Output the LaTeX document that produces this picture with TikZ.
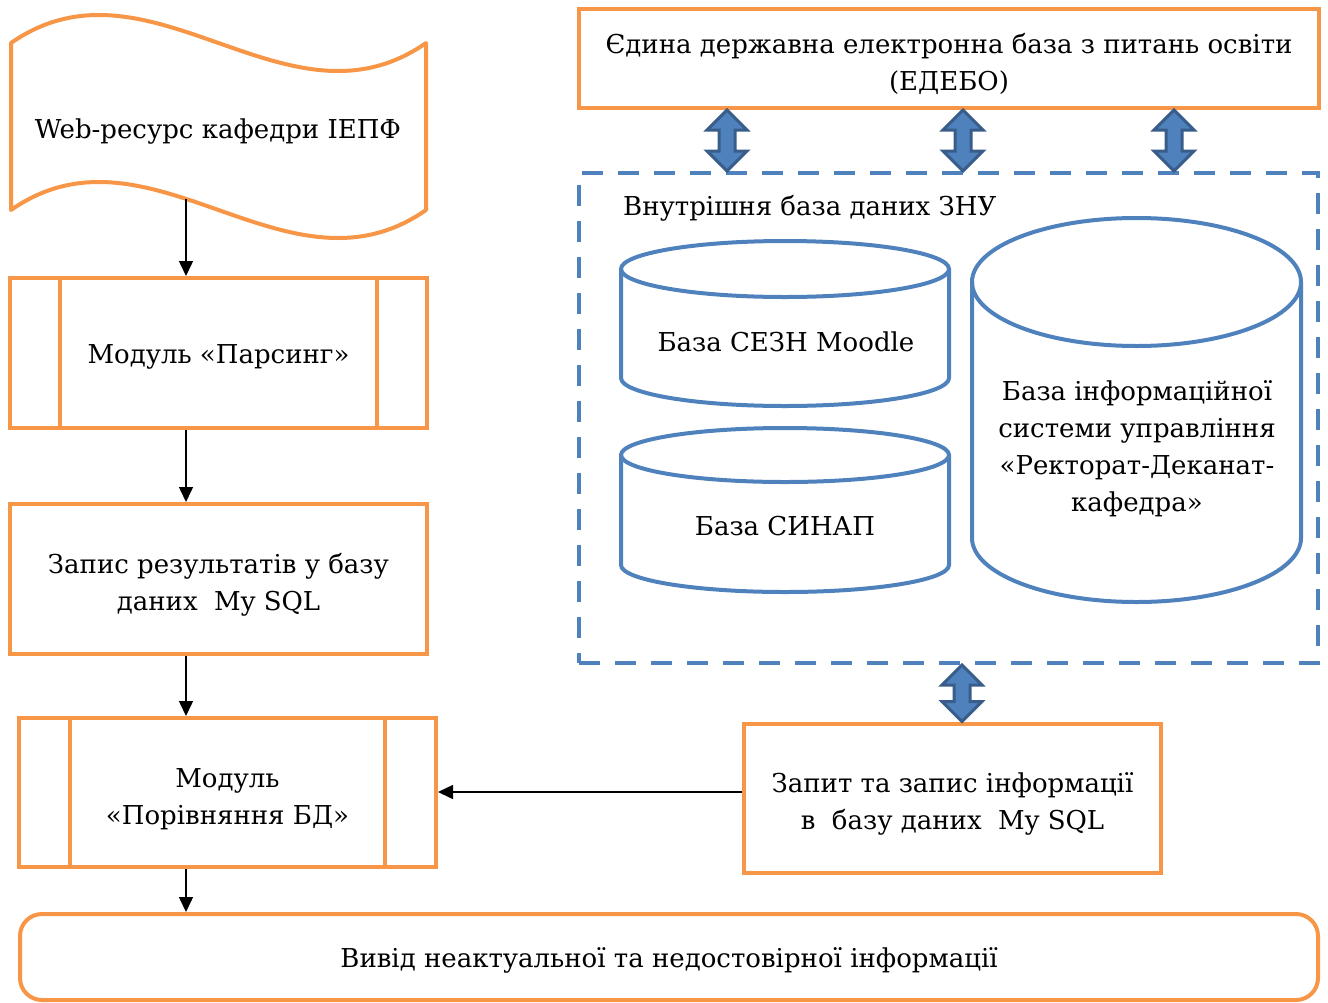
\documentclass[tikz,border=0pt]{standalone}
\usepackage{fontspec}
\setmainfont{DejaVu Serif}
\usetikzlibrary{calc,arrows.meta}
\definecolor{boxorange}{HTML}{F79646}
\definecolor{dbblue}{HTML}{4F81BD}
\definecolor{arrowedge}{HTML}{385D8A}

% taller first line, so that multi-line labels sit a little lower
\newcommand\lift{\rule{0pt}{32pt}}

% database cylinder: centre x, top ellipse y, bottom arc y, x radius, y radius
\newcommand\dbcyl[5]{%
  \draw[cylline] (#1,#2) ellipse ({#4} and {#5});
  \draw[cylline] ({#1-#4},#2) -- ({#1-#4},#3)
    .. controls ({#1-#4},{#3+0.5523*#5}) and ({#1-0.5523*#4},{#3+#5}) .. (#1,{#3+#5})
    .. controls ({#1+0.5523*#4},{#3+#5}) and ({#1+#4},{#3+0.5523*#5}) .. ({#1+#4},#3)
    -- ({#1+#4},#2);}

% two-headed block arrow between an upper tip and a lower tip
\newcommand\updown[2]{%
  \path[blockarrow] let \p1=#1, \p2=#2 in
    (\x1,\y1) -- (\x1+20pt,\y1-20pt) -- (\x1+8pt,\y1-20pt) -- (\x1+8pt,\y2+20pt)
    -- (\x1+20pt,\y2+20pt) -- (\x1,\y2) -- (\x1-20pt,\y2+20pt) -- (\x1-8pt,\y2+20pt)
    -- (\x1-8pt,\y1-20pt) -- (\x1-20pt,\y1-20pt) -- cycle;}

\begin{document}
\begin{tikzpicture}[x=1pt,y=-1pt,
  every node/.style={font=\fontsize{26}{37}\selectfont, align=center, inner sep=0pt,
    execute at begin node=\rule{0pt}{26pt}},
  obox/.style={draw=boxorange, line width=4pt, minimum width=417pt, minimum height=150pt},
  cylline/.style={draw=dbblue, line width=4pt},
  flow/.style={line width=1.5pt, -{Triangle[length=15pt,width=14pt]}},
  blockarrow/.style={draw=arrowedge, fill=dbblue, line width=3pt, line join=miter}]
\useasboundingbox (0,0) rectangle (1328,1002);

% web resource (punched tape shape)
\draw[boxorange, line width=4pt, line join=round]
  (11,43) .. controls (150,-54) and (287,140) .. (426,43)
  -- (426,210) .. controls (287,307) and (150,113) .. (11,210) -- cycle;
\node (web) at (218,128) {Web-ресурс кафедри ІЕПФ};
\coordinate (webbot) at (186,199);

% left column
\node[obox] (parse) at (218.5,353) {Модуль «Парсинг»};
\draw[boxorange, line width=4pt] ([xshift=52pt]parse.north west) -- ([xshift=52pt]parse.south west)
  ([xshift=-52pt]parse.north east) -- ([xshift=-52pt]parse.south east);

\node[obox] (write) at (218.5,579) {\lift Запис результатів у базу\\даних\ \ My SQL};

\node[obox, minimum height=149pt] (compare) at (227.5,792.5) {\lift Модуль\\«Порівняння БД»};
\draw[boxorange, line width=4pt] ([xshift=53pt]compare.north west) -- ([xshift=53pt]compare.south west)
  ([xshift=-53pt]compare.north east) -- ([xshift=-53pt]compare.south east);

\node[draw=boxorange, line width=4pt, rounded corners=22pt, minimum width=1298pt, minimum height=86pt]
  (output) at (669,957) {Вивід неактуальної та недостовірної інформації};

% right column
\node[draw=boxorange, line width=4pt, minimum width=740pt, minimum height=99pt]
  (edebo) at (949,58.5) {\lift Єдина державна електронна база з питань освіти\\(ЕДЕБО)};

\node[draw=dbblue, line width=4pt, dash pattern=on 21pt off 15pt, minimum width=739pt, minimum height=490pt]
  (inner) at (948.5,418) {};
\node[anchor=west] (innertitle) at (623,205) {Внутрішня база даних ЗНУ};

\dbcyl{785}{269}{378}{164}{28}
\node (moodle) at (786,339) {База СЕЗН Moodle};
\dbcyl{785}{455}{565}{164}{27}
\node (synap) at (785,523) {База СИНАП};
\dbcyl{1136.5}{282}{538}{164.5}{64}
\node (rdk) at (1137,443) {\lift База інформаційної\\системи управління\\«Ректорат-Деканат-\\кафедра»};

\node[obox, minimum height=149pt] (query) at (952.5,798) {\lift Запит та запис інформації\\в\ \ базу даних\ \ My SQL};

% connectors
\draw[flow] (webbot) -- (webbot |- parse.north);
\draw[flow] (parse.south -| webbot) -- (write.north -| webbot);
\draw[flow] (write.south -| webbot) -- (compare.north -| webbot);
\draw[flow] (compare.south -| webbot) -- (output.north -| webbot);
\draw[flow] ([yshift=6pt]query.west) -- ([yshift=6pt]query.west -| compare.east);

\updown{(727,0 |- edebo.south)}{(727,0 |- inner.north)}
\updown{(963,0 |- edebo.south)}{(963,0 |- inner.north)}
\updown{(1174,0 |- edebo.south)}{(1174,0 |- inner.north)}
\updown{(962,0 |- inner.south)}{(962,0 |- query.north)}
\end{tikzpicture}
\end{document}
